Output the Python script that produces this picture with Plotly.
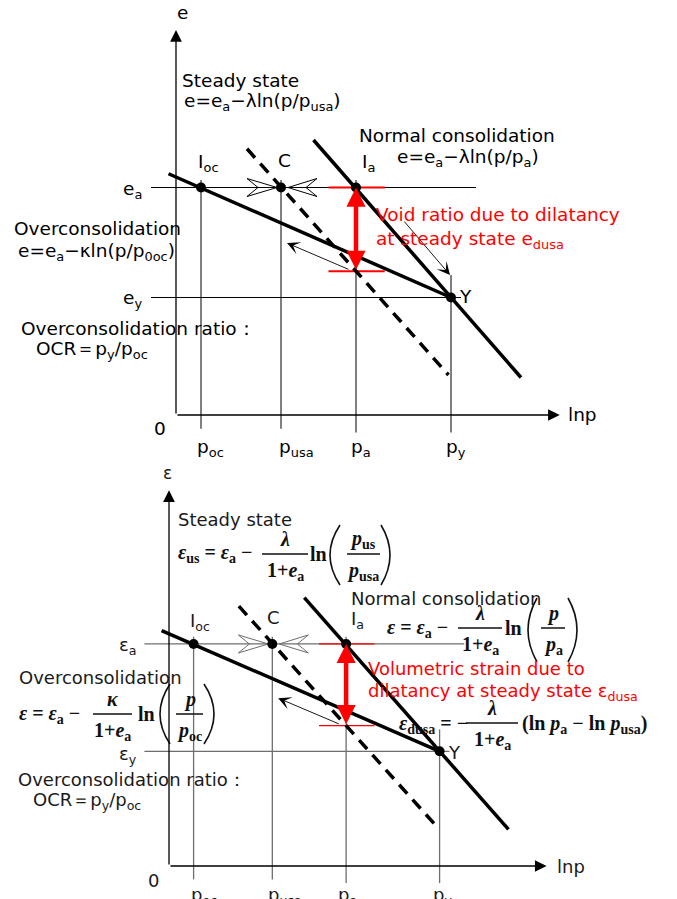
import plotly.graph_objects as go

# ---- schematic data (x = ln p, y = e or ε, arbitrary units) ----
p_names = ["oc", "usa", "a", "y"]
lnp_pts = [1.0, 4.2, 7.2, 11.0]          # p_oc, p_usa, p_a, p_y
e_a = 9.1
e_y = 4.7
e_ss_at_pa = 5.75                        # steady state line at p_a

oc_lnp = [-0.3, 11.0]
oc_e = [9.65, 4.7]
nc_lnp = [5.5, 13.8]
nc_e = [11.0, 1.5]
ss_lnp = [2.84, 10.9]
ss_e = [10.65, 1.6]

point_lnp = [1.0, 4.2, 7.2, 11.0]        # I_oc, C, I_a, Y
point_e = [9.1, 9.1, 9.1, 4.7]

guide_top = [9.4, 9.4, 9.4, 5.6]
guide_bottom = [-0.55, -0.55, -0.7, -0.7]
hguide_e = [e_a, e_y]
hguide_lnp = [[-1.0, 12.0], [-1.0, 11.4]]
red_mark_lnp = [6.1, 8.35]

axis_x_end = 15.35
axis_y_end = 15.4

unload_arrow = [6.96, 5.8, 4.44, 6.88]   # tail x, tail y, tip x, tip y
load_arrow = [9.08, 7.8, 10.96, 5.6]

W, H = 677, 899
SANS = "DejaVu Sans"
SERIF = "Liberation Serif"

panels = [
    dict(xa="x", ya="y", ox=176, oy=415, sx=25.0, sy=25.0, grid="#000000", gw=1.0, redw=2.0, load=True),
    dict(xa="x2", ya="y2", ox=169, oy=866, sx=24.6, sy=24.4, grid="#6e6e6e", gw=1.3, redw=1.3, load=False),
]

fig = go.Figure()
annotations = []
shapes = []


def add_line(pn, xs, ys, color="black", width=1.0, dash=None):
    fig.add_trace(go.Scatter(x=xs, y=ys, mode="lines", xaxis=pn["xa"], yaxis=pn["ya"],
                             line=dict(color=color, width=width, dash=dash), hoverinfo="skip"))


def add_arrow(pn, tail_x, tail_y, tip_x, tip_y, color="black", width=1.0, head=2, size=1.0, side="end"):
    annotations.append(dict(x=tip_x, y=tip_y, ax=tail_x, ay=tail_y, xref=pn["xa"], yref=pn["ya"],
                            axref=pn["xa"], ayref=pn["ya"], showarrow=True, arrowhead=head,
                            startarrowhead=head, arrowside=side, arrowsize=size, startarrowsize=size,
                            arrowwidth=width, arrowcolor=color, text=""))


for pn in panels:
    # guide lines
    gx, gy = [], []
    for x, t, b in zip(lnp_pts, guide_top, guide_bottom):
        gx += [x, x, None]
        gy += [b, t, None]
    for e, (x0, x1) in zip(hguide_e, hguide_lnp):
        gx += [x0, x1, None]
        gy += [e, e, None]
    add_line(pn, gx, gy, color=pn["grid"], width=pn["gw"])

    # open arrowheads pointing at C
    cx, cy = point_lnp[1], point_e[1]
    kx, ky = 1 / pn["sx"], 1 / pn["sy"]
    left = [(-4, 0), (-34, 9), (-23, 0), (-34, -9), (-4, 0)]
    right = [(7, 0), (36, 9), (25, 0), (36, -9), (7, 0)]
    for poly in (left, right):
        add_line(pn, [cx + a * kx for a, b in poly], [cy + b * ky for a, b in poly],
                 color=pn["grid"], width=1.0)

    # red marks
    add_line(pn, red_mark_lnp + [None] + red_mark_lnp, [e_a, e_a, None, e_ss_at_pa, e_ss_at_pa],
             color="#ff0000", width=pn["redw"])

    # main lines
    add_line(pn, ss_lnp, ss_e, width=3.5, dash="12px,8px")
    add_line(pn, oc_lnp, oc_e, width=3.5)
    add_line(pn, nc_lnp, nc_e, width=3.5)

    fig.add_trace(go.Scatter(x=point_lnp, y=point_e, mode="markers", xaxis=pn["xa"], yaxis=pn["ya"],
                             marker=dict(color="black", size=10), hoverinfo="skip"))

    # axes
    add_arrow(pn, 0, 0, 0, axis_y_end, width=1.3, head=2, size=1.8)
    add_arrow(pn, 0, 0, axis_x_end, 0, width=1.3, head=2, size=1.8)

    # arrows
    add_arrow(pn, lnp_pts[2], e_ss_at_pa, lnp_pts[2], e_a, color="#ff0000", width=4.5, head=2,
              size=0.85, side="end+start")
    add_arrow(pn, *unload_arrow, width=0.9, head=3, size=2.4)
    if pn["load"]:
        add_arrow(pn, *load_arrow, width=0.9, head=3, size=2.4)


def label(x, y, text, size=18.5, color="black", xanchor="left", family=SANS):
    annotations.append(dict(x=x / W, y=1 - y / H, xref="paper", yref="paper", text=text,
                            showarrow=False, xanchor=xanchor, yanchor="middle",
                            font=dict(family=family, size=size, color=color)))


def math(x, y, text, xanchor="center", size=20):
    label(x, y, "<b>" + text + "</b>", size=size, color="#111111", xanchor=xanchor, family=SERIF)


def hbar(x0, x1, y):
    shapes.append(dict(type="line", xref="paper", yref="paper", x0=x0 / W, x1=x1 / W,
                       y0=1 - y / H, y1=1 - y / H, line=dict(color="#111111", width=1.5)))


def frac(cx, ybar, x0, x1, num, den):
    math(cx, ybar - 15, num)
    math(cx, ybar + 17, den)
    hbar(x0, x1, ybar)


def paren(x0, x1, ytop, ybot, kind):
    ym = (ytop + ybot) / 2
    if kind == "(":
        edge, mid = x1, x0
    else:
        edge, mid = x0, x1
    ctrl = 2 * mid - edge
    path = "M {},{} Q {},{} {},{}".format(edge / W, 1 - ytop / H, ctrl / W, 1 - ym / H, edge / W, 1 - ybot / H)
    shapes.append(dict(type="path", xref="paper", yref="paper", path=path,
                       line=dict(color="#111111", width=1.6)))


# ---- top panel texts ----
label(183, 12, "e", xanchor="center")
label(180, 80, "Steady state")
label(182, 102, "e=e<sub>a</sub>−λln(p/p<sub>usa</sub>)")
label(357, 135, "Normal consolidation")
label(395, 158, "e=e<sub>a</sub>−λln(p/p<sub>a</sub>)")
label(196, 163, "I<sub>oc</sub>")
label(284, 161, "C", xanchor="center")
label(360, 163, "I<sub>a</sub>")
label(121, 190, "e<sub>a</sub>")
label(121, 299, "e<sub>y</sub>")
label(12, 229, "Overconsolidation")
label(16, 252, "e=e<sub>a</sub>−κln(p/p<sub>0oc</sub>)")
label(19, 328, "Overconsolidation ratio：")
label(34, 350, "OCR＝p<sub>y</sub>/p<sub>oc</sub>")
label(374, 215, "Void ratio due to dilatancy", color="#ff0000")
label(374, 240, "at steady state e<sub>dusa</sub>", color="#ff0000")
label(457, 297, "Y")
label(160, 428, "0", xanchor="center")
label(566, 415, "lnp")
for nm, x in zip(p_names, [210, 296, 361, 456]):
    label(x, 448, "p<sub>" + nm + "</sub>", xanchor="center")

# ---- bottom panel texts ----
B = "#1a1a1a"
label(167, 473, "ε", size=17, color=B, xanchor="center")
label(176, 519, "Steady state", size=18, color=B)
label(349, 598, "Normal consolidation", size=18, color=B)
label(188, 622, "I<sub>oc</sub>", size=18, color=B)
label(273, 617, "C", size=18, color=B, xanchor="center")
label(349, 620, "I<sub>a</sub>", size=18, color=B)
label(117, 646, "ε<sub>a</sub>", size=18, color=B)
label(117, 755, "ε<sub>y</sub>", size=18, color=B)
label(17, 677, "Overconsolidation", size=18, color=B)
label(16, 779, "Overconsolidation ratio：", size=18, color=B)
label(31, 801, "OCR＝p<sub>y</sub>/p<sub>oc</sub>", size=18, color=B)
label(366, 668, "Volumetric strain due to", size=18, color="#ff0000")
label(366, 692, "dilatancy at steady state ε<sub>dusa</sub>", size=18, color="#ff0000")
label(446, 752, "Y", size=18, color=B)
label(153, 880, "0", size=18, color=B, xanchor="center")
label(555, 866, "lnp", size=18, color=B)
for nm, x in zip(p_names, [204, 285, 347, 442]):
    label(x, 896, "p<sub>" + nm + "</sub>", size=18, color=B, xanchor="center")

# steady state formula
math(176, 553, "<i>ε</i><sub>us</sub> = <i>ε</i><sub>a</sub> −", xanchor="left")
frac(285, 554, 262, 308, "<i>λ</i>", "1+<i>e</i><sub>a</sub>")
math(318, 554, "ln")
paren(330, 340, 525, 585, "(")
frac(363, 554, 347, 380, "<i>p</i><sub>us</sub>", "<i>p</i><sub>usa</sub>")
paren(381, 390, 525, 585, ")")

# normal consolidation formula
math(385, 628, "<i>ε</i> = <i>ε</i><sub>a</sub> −", xanchor="left")
frac(480, 628, 458, 502, "<i>λ</i>", "1+<i>e</i><sub>a</sub>")
math(513, 628, "ln")
paren(528, 537, 598, 662, "(")
frac(553, 628, 541, 565, "<i>p</i>", "<i>p</i><sub>a</sub>")
paren(568, 577, 598, 662, ")")

# overconsolidation formula
math(17, 714, "<i>ε</i> = <i>ε</i><sub>a</sub> −", xanchor="left")
frac(112, 714, 93, 132, "<i>κ</i>", "1+<i>e</i><sub>a</sub>")
math(146, 714, "ln")
paren(160, 170, 684, 744, "(")
frac(190, 714, 176, 203, "<i>p</i>", "<i>p</i><sub>oc</sub>")
paren(204, 214, 684, 744, ")")

# dilatancy formula
math(397, 724, "<i>ε</i><sub>dusa</sub> = −", xanchor="left")
frac(492, 723, 466, 518, "<i>λ</i>", "1+<i>e</i><sub>a</sub>")
math(520, 724, "(ln <i>p</i><sub>a</sub> − ln <i>p</i><sub>usa</sub>)", xanchor="left")


def ax_range(o, s, span, flip=False):
    if flip:
        return [-(span - o) / s, o / s]
    return [-o / s, (span - o) / s]


top, bot = panels
fig.update_layout(
    width=W, height=H,
    margin=dict(l=0, r=0, t=0, b=0),
    plot_bgcolor="white", paper_bgcolor="white",
    showlegend=False,
    xaxis=dict(range=ax_range(top["ox"], top["sx"], W), visible=False, domain=[0, 1], fixedrange=True),
    yaxis=dict(range=ax_range(top["oy"], top["sy"], H, flip=True), visible=False, domain=[0, 1], fixedrange=True),
    xaxis2=dict(range=ax_range(bot["ox"], bot["sx"], W), visible=False, overlaying="x", fixedrange=True),
    yaxis2=dict(range=ax_range(bot["oy"], bot["sy"], H, flip=True), visible=False, overlaying="y",
                anchor="x2", fixedrange=True),
    annotations=annotations,
    shapes=shapes,
)

fig.write_html("out.html", config={"staticPlot": True},
               post_script="document.body.style.margin='0';")
